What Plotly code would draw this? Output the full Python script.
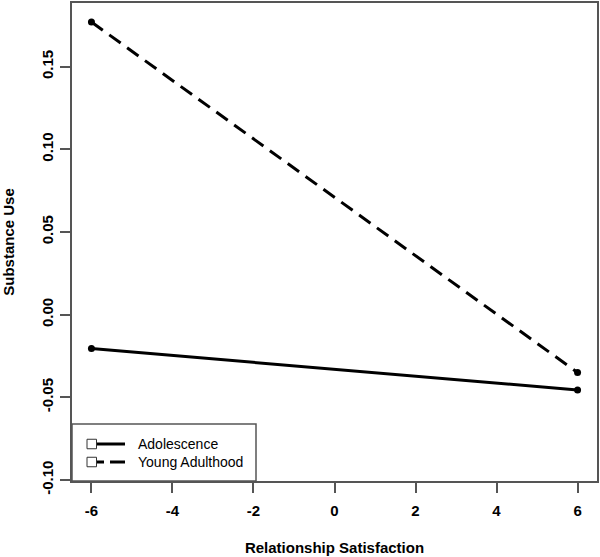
import plotly.graph_objects as go

# ---- data ----
x_values = [-6, 6]
series_names = ["Adolescence", "Young Adulthood"]
adolescence = [-0.0205, -0.0455]
young_adulthood = [0.177, -0.035]
x_ticks = [-6, -4, -2, 0, 2, 4, 6]
y_ticks = [-0.10, -0.05, 0.00, 0.05, 0.10, 0.15]
y_tick_labels = ["-0.10", "-0.05", "0.00", "0.05", "0.10", "0.15"]

W, H = 600, 557
L, R, T, B = 72, 3, 3, 76
pw, ph = W - L - R, H - T - B

def xp(px):
    return (px - L) / pw

def yp(py):
    return (H - B - py) / ph

FONT = "Liberation Sans, Arial, sans-serif"
AX = "#555555"

fig = go.Figure()
styles = [dict(dash="solid", legend_dash="solid"),
          dict(dash="14px,8px", legend_dash="8px,6px,15px,6px")]
for name, vals, st in zip(series_names, [adolescence, young_adulthood], styles):
    fig.add_trace(go.Scatter(
        x=x_values, y=vals, mode="lines+markers", name=name,
        line=dict(color="black", width=3, dash=st["dash"]),
        marker=dict(color="black", size=7, symbol="circle"),
        showlegend=False,
    ))

# manual R-style legend
shapes = []
annotations = []
shapes.append(dict(type="rect", xref="paper", yref="paper",
                   x0=xp(72), x1=xp(256), y0=yp(481), y1=yp(424),
                   line=dict(color=AX, width=1.5), fillcolor="white", layer="above"))
rows = [444, 462]
for i, (name, st) in enumerate(zip(series_names, styles)):
    cy = rows[i]
    shapes.append(dict(type="line", xref="paper", yref="paper",
                       x0=xp(96), x1=xp(125), y0=yp(cy), y1=yp(cy),
                       line=dict(color="black", width=3, dash=st["legend_dash"]),
                       layer="above"))
    shapes.append(dict(type="rect", xref="paper", yref="paper",
                       x0=xp(87), x1=xp(96.5), y0=yp(cy + 4.75), y1=yp(cy - 4.75),
                       line=dict(color="#333333", width=1), fillcolor="white", layer="above"))
    annotations.append(dict(text=name, xref="paper", yref="paper",
                            x=xp(136), y=yp(cy), xanchor="left", yanchor="middle",
                            showarrow=False,
                            font=dict(family=FONT, size=14, color="black")))

fig.update_layout(
    width=W, height=H,
    margin=dict(l=L, r=R, t=T, b=B, autoexpand=False),
    plot_bgcolor="white", paper_bgcolor="white",
    shapes=shapes, annotations=annotations,
    showlegend=False,
    font=dict(family=FONT, color="black"),
)
fig.update_xaxes(
    range=[-6.48, 6.48], tickvals=x_ticks, ticktext=[str(v) for v in x_ticks],
    showgrid=False, zeroline=False, showline=True, mirror=True,
    linecolor=AX, linewidth=1.5, ticks="outside", ticklen=10, tickcolor=AX, tickwidth=1.5,
    tickfont=dict(family=FONT, size=15, color="black", weight="bold"),
    ticklabelstandoff=5,
    title=dict(text="<b>Relationship Satisfaction</b>", standoff=25,
               font=dict(family=FONT, size=15, color="black")),
    automargin=False,
)
fig.update_yaxes(
    range=[-0.1006, 0.1885], tickvals=y_ticks, ticktext=y_tick_labels,
    showgrid=False, zeroline=False, showline=True, mirror=True,
    linecolor=AX, linewidth=1.5, ticks="outside", ticklen=10, tickcolor=AX, tickwidth=1.5,
    tickangle=-90, ticklabelstandoff=1,
    tickfont=dict(family=FONT, size=15, color="black", weight="bold"),
    title=dict(text="<b>Substance Use</b>", standoff=22,
               font=dict(family=FONT, size=15, color="black")),
    automargin=False,
)

fig.write_html("out.html", config={"displayModeBar": False},
               post_script="document.body.style.margin='0px';")
